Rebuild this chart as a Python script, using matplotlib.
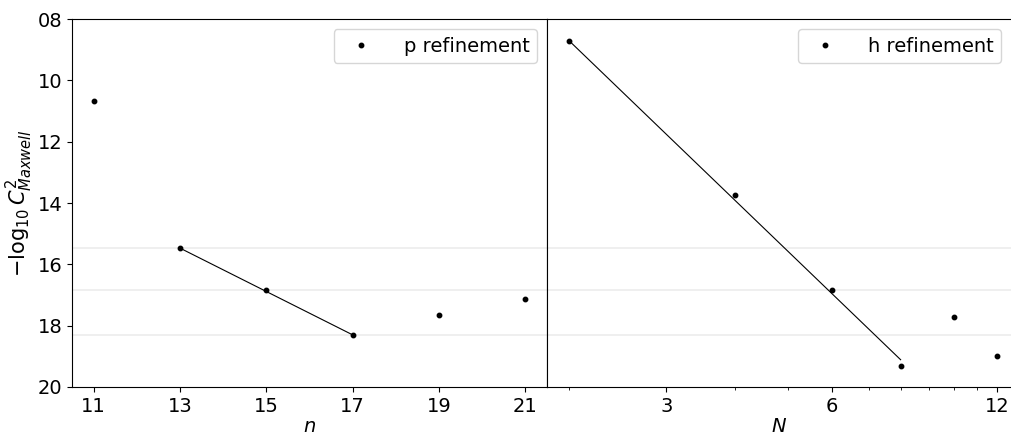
import matplotlib
matplotlib.use("Agg")
import matplotlib.pyplot as plt
from matplotlib.ticker import FixedLocator, FormatStrFormatter, NullFormatter

# p refinement data
p_n = [11, 13, 15, 17, 19, 21]
p_vals = [10.67, 15.47, 16.83, 18.32, 17.66, 17.12]
p_fit_n = [13, 17]
p_fit_vals = [15.47, 18.30]

# h refinement data
h_N = [2, 4, 6, 8, 10, 12]
h_vals = [8.72, 13.73, 16.83, 19.31, 17.73, 18.99]
h_fit_N = [2, 8]
h_fit_vals = [8.72, 19.11]

# reference levels
ref_levels = [15.47, 16.83, 18.32]

y_ticks = [8, 10, 12, 14, 16, 18, 20]
p_ticks = [11, 13, 15, 17, 19, 21]
h_major = [3, 6, 12]
h_minor = [2, 4, 5, 7, 8, 9, 10, 11]

fs = 14
fig = plt.figure(figsize=(10.11, 4.34), dpi=100)
ax1 = fig.add_axes([0.0712, 0.1083, 0.4698, 0.8479])
ax2 = fig.add_axes([0.5410, 0.1083, 0.4590, 0.8479], sharey=ax1)

for ax in (ax1, ax2):
    for lv in ref_levels:
        ax.axhline(lv, color='#eeeeee', lw=1.3, zorder=0)

ax1.plot(p_n, p_vals, 'o', color='black', ms=3.2, label='p refinement')
ax1.plot(p_fit_n, p_fit_vals, '-', color='black', lw=0.8)
ax1.set_xlim(10.5, 21.5)
ax1.set_xticks(p_ticks)
ax1.set_ylim(20, 8)
ax1.set_yticks(y_ticks)
ax1.yaxis.set_major_formatter(FormatStrFormatter('%02d'))
ax1.set_xlabel('$n$', fontsize=fs, labelpad=1)
ax1.set_ylabel(r'$-\log_{10} C^2_{Maxwell}$', fontsize=15, labelpad=2)
ax1.tick_params(labelsize=fs)
ax1.legend(loc='upper right', fontsize=fs, handletextpad=1.2)

ax2.plot(h_N, h_vals, 'o', color='black', ms=3.2, label='h refinement')
ax2.plot(h_fit_N, h_fit_vals, '-', color='black', lw=0.8)
ax2.set_xscale('log')
ax2.set_xlim(1.82, 12.7)
ax2.xaxis.set_major_locator(FixedLocator(h_major))
ax2.xaxis.set_minor_locator(FixedLocator(h_minor))
ax2.set_xticklabels([str(v) for v in h_major])
ax2.xaxis.set_minor_formatter(NullFormatter())
ax2.tick_params(axis='y', left=False, labelleft=False)
ax2.tick_params(labelsize=fs)
ax2.spines['right'].set_visible(False)
ax2.set_xlabel('$N$', fontsize=fs, labelpad=1)
ax2.legend(loc='upper right', fontsize=fs, handletextpad=1.2)

fig.savefig('out.png', dpi=100)
